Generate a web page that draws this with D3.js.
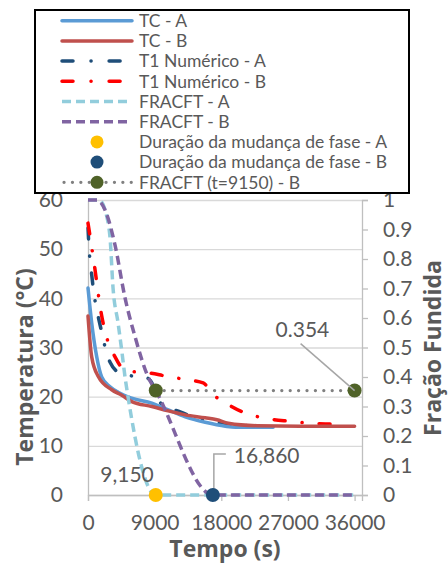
<!DOCTYPE html>
<html lang="pt">
<head>
<meta charset="UTF-8">
<title>Temperatura e Fração Fundida</title>
<script src="https://d3js.org/d3.v7.min.js"></script>
<style>
  body { margin: 0; background: #fff; }
  svg text { font-family: Lato, "Open Sans", sans-serif; fill: #595959; }
  svg text.titulo { font-family: "Open Sans", Lato, sans-serif; font-weight: bold; font-size: 23px; }
</style>
</head>
<body>
<svg id="chart" width="448" height="568"></svg>
<script>
// dados: [tempo (s), valor]
var tcA = [[0,42.1],[500,35],[1180,28.1],[1850,24.0],[2980,22.0],[4060,20.9],[5910,19.7],[8620,18.7],
           [10830,17.3],[13130,15.9],[15830,14.8],[18540,14.0],[19890,13.8],[25000,13.8]];
var tcB = [[0,36.4],[500,28.1],[1390,24.1],[3200,21.4],[4560,20.3],[5910,19.0],[8620,18.0],[10830,17.1],
           [13130,16.3],[15830,15.7],[17400,15.3],[18940,14.6],[22830,14.1],[28700,14.0],[36000,14.0]];
var t1A = [[0,54.3],[150,50.0],[450,45.5],[800,41],[1350,36.5],[2030,32],[2500,28.8],[2980,27],[4060,25],
           [5950,24.2],[7980,23.8],[8800,22.3],[9470,19.3],[10690,17.9],[12450,16.9],[14800,15.5],
           [17460,14.6],[20500,14.2],[23000,14.0]];
var t1B = [[0,55.3],[500,50.4],[950,45.8],[1310,41.7],[1830,36.6],[2440,32.5],[3650,28.1],[5000,25.4],
           [6600,25.0],[8400,24.8],[10400,24.2],[13100,23.5],[15560,22.8],[16900,20.3],[18100,19.3],
           [19500,17.9],[22000,16.3],[24360,15.5],[27200,15.0],[30000,14.6],[33000,14.4],[34500,14.3]];
var fracA = [[0,1],[1500,1],[2700,0.925],[2980,0.871],[3380,0.702],[4060,0.583],[4600,0.481],
             [5000,0.4],[5410,0.332],[9150,0],[36000,0]];
var fracB = [[0,1],[1220,1],[2300,0.966],[3650,0.847],[5000,0.668],[6360,0.536],[8120,0.4],
             [9150,0.354],[16860,0],[36000,0]];
var durA = [[9150,0]];
var durB = [[16860,0]];
var fracT = [[9150,0.354],[36000,0.354]];

var tempTicks = [0,10,20,30,40,50,60];
var fracTicks = [0,0.1,0.2,0.3,0.4,0.5,0.6,0.7,0.8,0.9,1];
var timeTicks = [0,9000,18000,27000,36000];

var legendNames = ["TC - A","TC - B","T1 Numérico - A","T1 Numérico - B","FRACFT - A","FRACFT - B",
                   "Duração da mudança de fase - A","Duração da mudança de fase - B","FRACFT (t=9150) - B"];

var svg = d3.select("#chart");

var x = d3.scaleLinear().domain([0, 37000]).range([88, 362]);
var yT = d3.scaleLinear().domain([0, 60]).range([495, 200]);
var yF = d3.scaleLinear().domain([0, 1]).range([495, 200]);

// linhas de grade
svg.append("g")
    .attr("transform", "translate(88,0)")
    .call(d3.axisLeft(yT).tickValues(tempTicks).tickSize(-274).tickFormat(""))
    .call(function(g) {
        g.select(".domain").remove();
        g.selectAll("line").attr("stroke", "#d9d9d9").attr("stroke-width", 1.3);
    });

// eixo esquerdo
svg.append("g")
    .attr("transform", "translate(88,0)")
    .call(d3.axisLeft(yT).tickValues(tempTicks).tickSize(0).tickPadding(25))
    .call(function(g) {
        g.select(".domain").attr("stroke", "#bfbfbf").attr("stroke-width", 1.3);
        g.selectAll("text").style("font-size", "21px").attr("fill", "#595959");
    });

// eixo direito
svg.append("g")
    .attr("transform", "translate(362,0)")
    .call(d3.axisRight(yF).tickValues(fracTicks).tickSize(6).tickPadding(15).tickFormat(d3.format("~g")))
    .call(function(g) {
        g.select(".domain").attr("stroke", "#bfbfbf").attr("stroke-width", 1.3);
        g.selectAll("line").attr("stroke", "#bfbfbf").attr("stroke-width", 1.3);
        g.selectAll("text").style("font-size", "21px").attr("fill", "#595959");
    });

// eixo inferior
svg.append("g")
    .attr("transform", "translate(0,495)")
    .call(d3.axisBottom(x).tickValues(timeTicks).tickSize(6).tickPadding(14).tickFormat(d3.format("d")))
    .call(function(g) {
        g.select(".domain").attr("stroke", "#bfbfbf").attr("stroke-width", 1.3);
        g.selectAll("line").attr("stroke", "#bfbfbf").attr("stroke-width", 1.3);
        g.selectAll("text").style("font-size", "21px").attr("fill", "#595959");
    });

// títulos dos eixos
svg.append("text").attr("class", "titulo").attr("x", 225).attr("y", 557).attr("text-anchor", "middle")
    .text("Tempo (s)");
svg.append("text").attr("class", "titulo").attr("transform", "translate(33,367) rotate(-90)")
    .attr("text-anchor", "middle").text("Temperatura (°C)");
svg.append("text").attr("class", "titulo").attr("transform", "translate(441,348) rotate(-90)")
    .attr("text-anchor", "middle").text("Fração Fundida");

var styles = [
    {color: "#5b9bd5", dash: null, cap: "round"},
    {color: "#c0504d", dash: null, cap: "round"},
    {color: "#1f4e79", dash: "11,17,0.1,17", cap: "round"},
    {color: "#ff0000", dash: "11,17,0.1,17", cap: "round"},
    {color: "#92cddc", dash: "9,5", cap: "butt"},
    {color: "#8064a2", dash: "9,5", cap: "butt"}
];

var lineT = d3.line().x(function(d) { return x(d[0]); }).y(function(d) { return yT(d[1]); })
    .curve(d3.curveMonotoneX);
var lineF = d3.line().x(function(d) { return x(d[0]); }).y(function(d) { return yF(d[1]); })
    .curve(d3.curveMonotoneX);

var series = [
    {data: tcA, line: lineT}, {data: tcB, line: lineT},
    {data: t1A, line: lineT}, {data: t1B, line: lineT},
    {data: fracA, line: lineF}, {data: fracB, line: lineF}
];
// ordem de desenho
[2, 3, 0, 1, 4, 5].forEach(function(i) {
    svg.append("path")
        .attr("d", series[i].line(series[i].data))
        .attr("fill", "none")
        .attr("stroke", styles[i].color)
        .attr("stroke-width", 3.5)
        .attr("stroke-linecap", styles[i].cap)
        .attr("stroke-dasharray", styles[i].dash);
});

// FRACFT (t=9150) - B
svg.append("path")
    .attr("d", d3.line().x(function(d) { return x(d[0]); }).y(function(d) { return yF(d[1]); })(fracT))
    .attr("fill", "none").attr("stroke", "#808080").attr("stroke-width", 3.2)
    .attr("stroke-linecap", "round").attr("stroke-dasharray", "0.1,8.3");
svg.selectAll(".mk-t").data(fracT).enter().append("circle")
    .attr("cx", function(d) { return x(d[0]); }).attr("cy", function(d) { return yF(d[1]); })
    .attr("r", 7).attr("fill", "#4f6228");

// rótulos de dados
svg.append("path")
    .attr("d", "M" + (x(fracT[1][0]) - 54) + "," + (yF(fracT[1][1]) - 47) + "L" + x(fracT[1][0]) + "," + yF(fracT[1][1]))
    .attr("stroke", "#a6a6a6").attr("stroke-width", 1.5).attr("fill", "none");
svg.append("text").attr("x", x(fracT[1][0]) - 79).attr("y", yF(fracT[1][1]) - 54)
    .style("font-size", "21px").text(d3.format(".3f")(fracT[1][1]));

svg.append("path")
    .attr("d", "M" + (x(durB[0][0]) + 1) + "," + (yF(0) - 6) + "V" + (yF(0) - 41) + "H" + (x(durB[0][0]) + 13))
    .attr("stroke", "#a6a6a6").attr("stroke-width", 1.5).attr("fill", "none");
svg.append("text").attr("x", x(durB[0][0]) + 21).attr("y", yF(0) - 32)
    .style("font-size", "21px").text(d3.format(",")(durB[0][0]));
svg.append("text").attr("x", x(durA[0][0]) - 2).attr("y", yF(0) - 13).attr("text-anchor", "end")
    .style("font-size", "21px").text(d3.format(",")(durA[0][0]));

// marcadores de duração
svg.append("circle").attr("cx", x(durA[0][0])).attr("cy", yF(durA[0][1])).attr("r", 7).attr("fill", "#ffc000");
svg.append("circle").attr("cx", x(durB[0][0])).attr("cy", yF(durB[0][1])).attr("r", 7).attr("fill", "#1f4e79");

// legenda
var legend = svg.append("g");
legend.append("rect").attr("x", 35).attr("y", 10).attr("width", 374).attr("height", 183)
    .attr("fill", "#fff").attr("stroke", "#000").attr("stroke-width", 2);
var rowY = d3.scaleLinear().domain([0, 8]).range([20.7, 182.3]);
legendNames.forEach(function(name, i) {
    var yy = rowY(i);
    if (i < 6) {
        legend.append("line").attr("x1", 62).attr("x2", 132).attr("y1", yy).attr("y2", yy)
            .attr("stroke", styles[i].color).attr("stroke-width", 3.5)
            .attr("stroke-linecap", styles[i].cap)
            .attr("stroke-dasharray", i === 2 || i === 3 ? "11,18,0.1,18" : styles[i].dash);
    } else if (i === 8) {
        legend.append("line").attr("x1", 64).attr("x2", 132).attr("y1", yy).attr("y2", yy)
            .attr("stroke", "#808080").attr("stroke-width", 3.2)
            .attr("stroke-linecap", "round").attr("stroke-dasharray", "0.1,8.3");
        legend.append("circle").attr("cx", 97).attr("cy", yy).attr("r", 6.5).attr("fill", "#4f6228");
    } else {
        legend.append("circle").attr("cx", 97).attr("cy", yy).attr("r", 6.5)
            .attr("fill", i === 6 ? "#ffc000" : "#1f4e79");
    }
    legend.append("text").attr("x", 139).attr("y", yy).attr("dy", "0.36em")
        .style("font-size", "17.5px").text(name);
});
</script>
</body>
</html>
